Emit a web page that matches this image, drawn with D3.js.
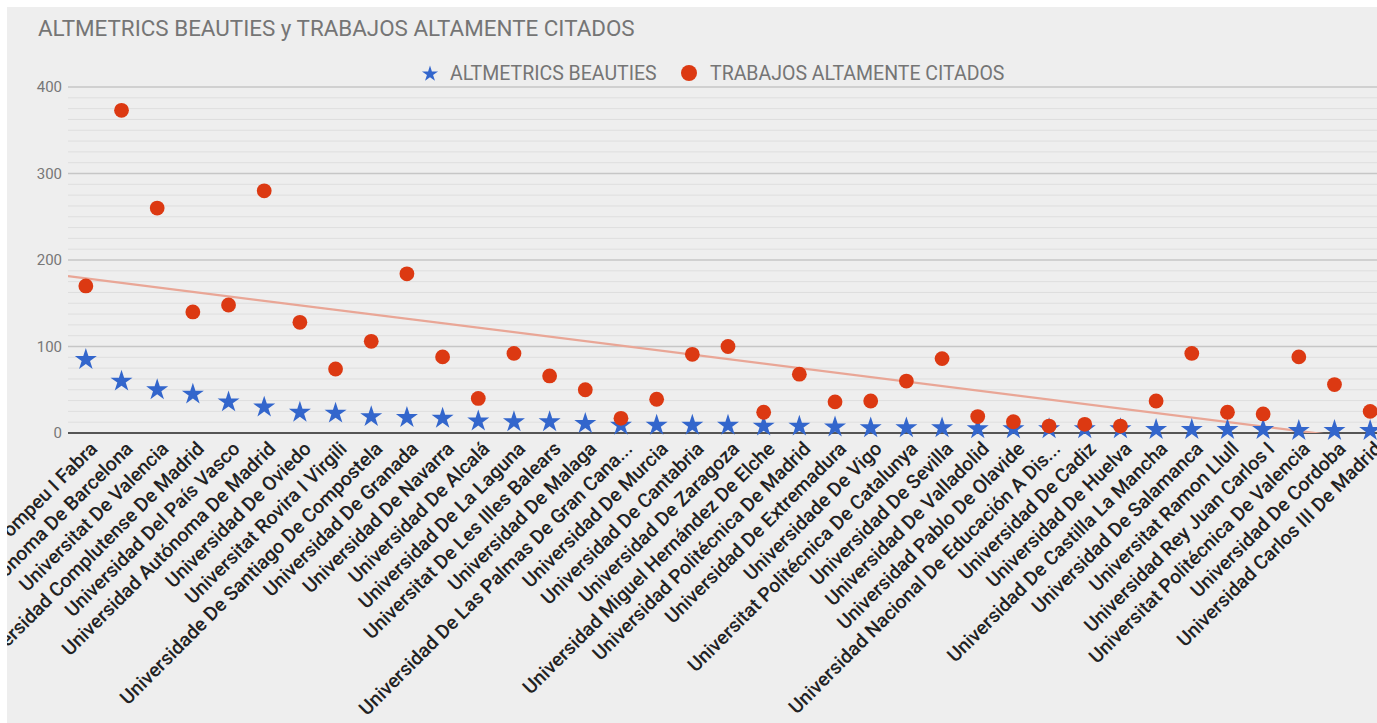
<!DOCTYPE html>
<html><head><meta charset="utf-8">
<script src="https://cdn.jsdelivr.net/npm/d3@7"></script>
<style>
html,body{margin:0;padding:0;background:#fff;}
svg{display:block;font-family:Roboto,"Noto Sans",sans-serif;}
</style></head>
<body><svg id="c" width="1377" height="723"></svg>
<script>
const categories = [
 "Universitat Pompeu I Fabra","Universitat Autònoma De Barcelona","Universitat De Valencia",
 "Universidad Complutense De Madrid","Universidad Del País Vasco","Universidad Autónoma De Madrid",
 "Universidad De Oviedo","Universitat Rovira I Virgili","Universidade De Santiago De Compostela",
 "Universidad De Granada","Universidad De Navarra","Universidad De Alcalá","Universidad De La Laguna",
 "Universitat De Les Illes Balears","Universidad De Malaga","Universidad De Las Palmas De Gran Cana...",
 "Universidad De Murcia","Universidad De Cantabria","Universidad De Zaragoza",
 "Universidad Miguel Hernández De Elche","Universidad Politécnica De Madrid","Universidad De Extremadura",
 "Universidade De Vigo","Universitat Politécnica De Catalunya","Universidad De Sevilla",
 "Universidad De Valladolid","Universidad Pablo De Olavide","Universidad Nacional De Educación A Dis...",
 "Universidad De Cadiz","Universidad De Huelva","Universidad De Castilla La Mancha",
 "Universidad De Salamanca","Universitat Ramon Llull","Universidad Rey Juan Carlos I",
 "Universitat Politécnica De Valencia","Universidad De Cordoba","Universidad Carlos III De Madrid"];
const altmetrics = [86,61,51,46,37,31,25,24,20,19,18,15,14,14,12,10,10,10,10,9,9,8,7,7,7,6,6,6,6,6,5,5,5,5,4,4,4];
const trabajos = [170,373,260,140,148,280,128,74,106,184,88,40,92,66,50,17,39,91,100,24,68,36,37,60,86,19,13,8,10,8,37,92,24,22,88,56,25];
const yTicks = [0,100,200,300,400];
const seriesNames = ["ALTMETRICS BEAUTIES","TRABAJOS ALTAMENTE CITADOS"];
const colors = ["#3366cc","#dc3912"];

const svg = d3.select("#c");
const W = 1377, H = 723;
const L = 68, R = 1388, T = 87, B = 433;
svg.append("rect").attr("x",0).attr("y",0).attr("width",W).attr("height",H).attr("fill","#fff");
svg.append("clipPath").attr("id","frame").append("rect").attr("x",7).attr("y",7).attr("width",W-7).attr("height",H-7);
const root = svg.append("g").attr("clip-path","url(#frame)");
root.append("rect").attr("x",7).attr("y",7).attr("width",W-7).attr("height",H-7).attr("fill","#eeeeee");

const x = d3.scalePoint().domain(categories).range([L,R]).padding(0.5);
const y = d3.scaleLinear().domain([0,400]).range([B,T]);

// grid
const minor = d3.range(0,400.1,12.5).filter(v=>v%100!==0);
root.append("g").selectAll("line").data(minor).join("line")
  .attr("x1",L).attr("x2",W).attr("y1",d=>y(d)).attr("y2",d=>y(d))
  .attr("stroke","#dedede").attr("stroke-width",1);
root.append("g").selectAll("line").data(yTicks.filter(v=>v>0)).join("line")
  .attr("x1",L).attr("x2",W).attr("y1",d=>y(d)).attr("y2",d=>y(d))
  .attr("stroke","#c6c6c6").attr("stroke-width",1.5);
root.append("line").attr("x1",L).attr("x2",W).attr("y1",y(0)).attr("y2",y(0))
  .attr("stroke","#555").attr("stroke-width",2);

// y axis labels
const yAxis = d3.axisLeft(y).tickValues(yTicks).tickSize(0).tickPadding(6);
const ya = root.append("g").attr("transform",`translate(${L},0)`).call(yAxis);
ya.select(".domain").remove();
ya.selectAll("text").attr("fill","#777").style("font-size","15px").style("font-family","Roboto");

// x axis labels
const xAxis = d3.axisBottom(x).tickSize(0).tickPadding(0);
const xa = root.append("g").attr("transform",`translate(0,${B})`).call(xAxis);
xa.select(".domain").remove();
xa.selectAll("text")
  .attr("fill","#222").style("font-size","19.5px").style("font-weight","500").style("font-family","Roboto")
  .attr("text-anchor","end").attr("dy",0)
  .attr("transform","translate(12,17) rotate(-45)");

// clip
svg.append("clipPath").attr("id","plot").append("rect").attr("x",L).attr("y",T-30).attr("width",W-L).attr("height",B-T+30);

// trendline (linear regression of trabajos on index)
const n = trabajos.length;
const idx = d3.range(n);
const mx = d3.mean(idx), my = d3.mean(trabajos);
const slope = d3.sum(idx,i=>(i-mx)*(trabajos[i]-my))/d3.sum(idx,i=>(i-mx)*(i-mx));
const icpt = my - slope*mx;
const step = x.step();
const px2i = px => (px - x(categories[0]))/step;
const x0 = L, x1 = R;
root.append("g").attr("clip-path","url(#plot)").append("line")
  .attr("x1",x0).attr("y1",y(icpt+slope*px2i(x0)))
  .attr("x2",x1).attr("y2",y(icpt+slope*px2i(x1)))
  .attr("stroke","#e9a696").attr("stroke-width",2.2);

// points
const starPath = d3.symbol().type(d3.symbolStar).size(150)();
root.append("g").selectAll("path").data(altmetrics).join("path")
  .attr("d",starPath).attr("fill",colors[0])
  .attr("transform",(d,i)=>`translate(${x(categories[i])},${y(d)+1})`);
root.append("g").selectAll("circle").data(trabajos).join("circle")
  .attr("cx",(d,i)=>x(categories[i])).attr("cy",d=>y(d)).attr("r",7.4).attr("fill",colors[1]);

// title
root.append("text").attr("x",38).attr("y",36).text("ALTMETRICS BEAUTIES y TRABAJOS ALTAMENTE CITADOS")
  .attr("fill","#757575").style("font-size","22.4px");

// legend
const lg = root.append("g");
lg.append("path").attr("d",d3.symbol().type(d3.symbolStar).size(80)()).attr("fill",colors[0])
  .attr("transform","translate(430,74)");
lg.append("text").attr("x",450).attr("y",80).text(seriesNames[0]).attr("fill","#757575").style("font-size","19.5px");
lg.append("circle").attr("cx",689).attr("cy",73).attr("r",8).attr("fill",colors[1]);
lg.append("text").attr("x",710).attr("y",80).text(seriesNames[1]).attr("fill","#757575").style("font-size","19.5px");
</script></body></html>
